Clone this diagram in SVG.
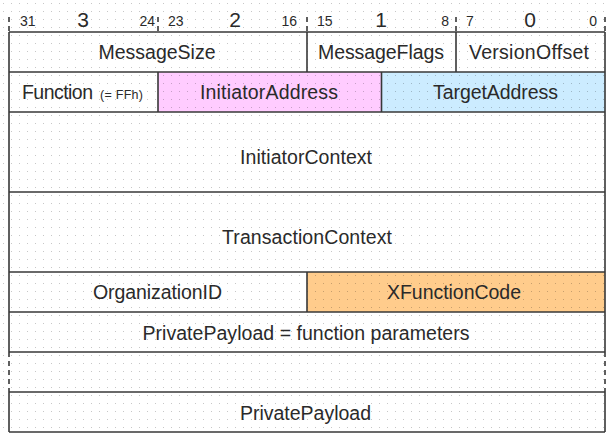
<svg xmlns="http://www.w3.org/2000/svg" width="607" height="433" viewBox="0 0 607 433">
<defs>
<pattern id="dots" x="0" y="0" width="8" height="8" patternUnits="userSpaceOnUse">
<rect x="3" y="3" width="1" height="1" fill="#000" fill-opacity="0.22"/>
</pattern>
</defs>
<style>
text{font-family:"Liberation Sans",Arial,sans-serif;fill:#2a2a2a;}
.lbl{font-size:19.5px;text-anchor:middle;}
.num{font-size:14px;}
.big{font-size:21px;text-anchor:middle;}
.cell{stroke:none;}
.line{stroke:#383838;stroke-width:1.6;fill:none;}
.dash{stroke:#383838;stroke-width:1.6;fill:none;stroke-dasharray:5,4;}
</style>
<rect x="0" y="0" width="607" height="433" fill="#fff"/>
<g id="cells-fill">
<rect class="cell" x="158" y="72" width="223.5" height="40" fill="#ffccff"/>
<rect class="cell" x="381.5" y="72" width="223.5" height="40" fill="#ccecff"/>
<rect class="cell" x="307" y="272" width="298" height="40" fill="#ffcc8c"/>
</g>
<rect x="0" y="0" width="607" height="433" fill="url(#dots)"/>
<g id="header">
<path class="dash" d="M9 17V32M158 17V32M307 17V32M456 17V32M605 17V32"/>
<text class="num" x="20" y="26">31</text>
<text class="big" x="83" y="27">3</text>
<text class="num" x="155" y="26" text-anchor="end">24</text>
<text class="num" x="168" y="26">23</text>
<text class="big" x="235" y="27">2</text>
<text class="num" x="297" y="26" text-anchor="end">16</text>
<text class="num" x="317" y="26">15</text>
<text class="big" x="381" y="27">1</text>
<text class="num" x="449" y="26" text-anchor="end">8</text>
<text class="num" x="466" y="26">7</text>
<text class="big" x="530" y="27">0</text>
<text class="num" x="597" y="26" text-anchor="end">0</text>
</g>
<g id="connectors">
<path class="line" d="M9 32H605M9 72H605M9 112H605M9 192H605M9 272H605M9 312H605M9 352H605M9 392H605M9 432H605"/>
<path class="line" d="M9 32V352M605 32V352M9 392V432M605 392V432"/>
<path class="line" d="M307 32V72M456 32V72M158 72V112M381.5 72V112M307 272V312"/>
<path class="dash" d="M9 352V392M605 352V392"/>
</g>
<g id="MessageSize"><text class="lbl" x="157" y="59" textLength="117">MessageSize</text></g>
<g id="MessageFlags"><text class="lbl" x="381" y="59" textLength="126">MessageFlags</text></g>
<g id="VersionOffset"><text class="lbl" x="529" y="59" textLength="120">VersionOffset</text></g>
<g id="Function"><text x="22" y="99" style="font-size:19.5px" textLength="71">Function</text><text x="100" y="99" style="font-size:12.5px" textLength="43">(= FFh)</text></g>
<g id="InitiatorAddress"><text class="lbl" x="269" y="99" textLength="138">InitiatorAddress</text></g>
<g id="TargetAddress"><text class="lbl" x="495.5" y="99" textLength="125">TargetAddress</text></g>
<g id="InitiatorContext"><text class="lbl" x="306" y="164" textLength="132">InitiatorContext</text></g>
<g id="TransactionContext"><text class="lbl" x="307" y="244" textLength="170">TransactionContext</text></g>
<g id="OrganizationID"><text class="lbl" x="157.5" y="299" textLength="129">OrganizationID</text></g>
<g id="XFunctionCode"><text class="lbl" x="454" y="299" textLength="134">XFunctionCode</text></g>
<g id="PrivatePayloadParams"><text class="lbl" x="306" y="339.5" textLength="327">PrivatePayload = function parameters</text></g>
<g id="PrivatePayload"><text class="lbl" x="305.5" y="419.5" textLength="131">PrivatePayload</text></g>
</svg>
